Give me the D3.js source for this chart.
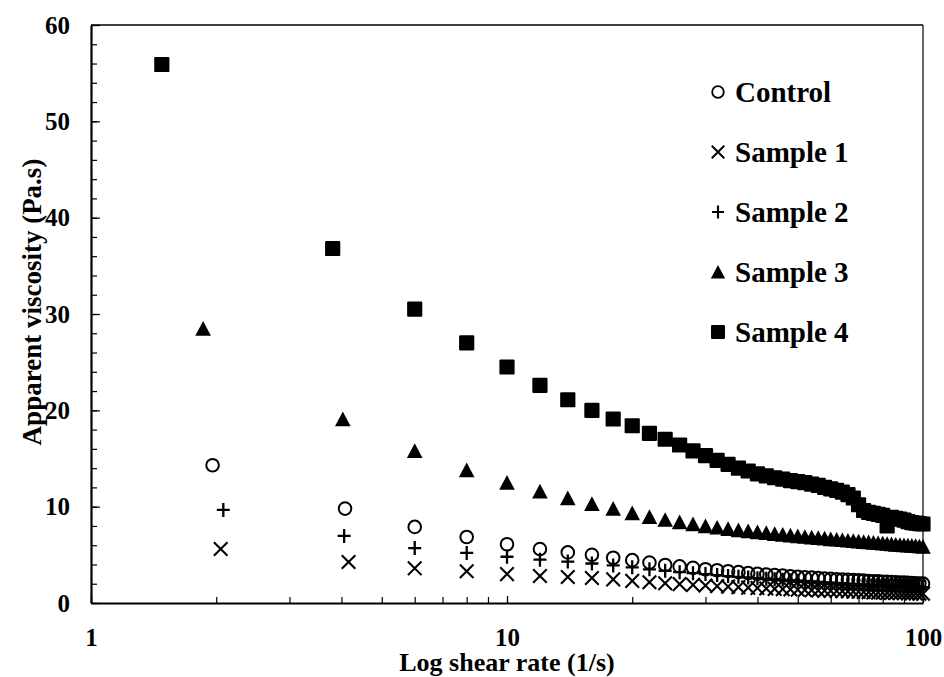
<!DOCTYPE html>
<html>
<head>
<meta charset="utf-8">
<script src="https://cdn.jsdelivr.net/npm/d3@7"></script>
<style>
  body { margin: 0; background: #fff; }
  svg text { font-family: "Liberation Serif", "Times New Roman", serif; font-weight: bold; fill: #000; }
</style>
</head>
<body>
<div class="chart"></div>
<script>
// shear rate steps (1/s) shared by all series
var shearRate = [2, 4, 6, 8, 10, 12, 14, 16, 18, 20,
                 22, 24, 26, 28, 30, 32, 34, 36, 38, 40,
                 42, 44, 46, 48, 50, 52, 54, 56, 58, 60,
                 62, 64, 66, 68, 70, 72, 74, 76, 78, 80,
                 82, 84, 86, 88, 90, 92, 94, 96, 98, 100];

// first two measured rates differ a bit per run
var controlLead = [1.96, 4.08];
var sample1Lead = [2.05, 4.16];
var sample2Lead = [2.08, 4.06];
var sample3Lead = [1.86, 4.03];
var sample4Lead = [1.48, 3.81];

// apparent viscosity (Pa.s)
var control = [14.3, 9.8, 7.9, 6.85, 6.1, 5.6, 5.25, 5.0, 4.7, 4.45,
               4.2, 3.95, 3.8, 3.65, 3.5, 3.4, 3.3, 3.2, 3.1, 3.03,
               2.96, 2.9, 2.84, 2.78, 2.73, 2.68, 2.63, 2.59, 2.55, 2.51,
               2.47, 2.44, 2.41, 2.38, 2.35, 2.32, 2.29, 2.26, 2.24, 2.21,
               2.19, 2.17, 2.15, 2.13, 2.11, 2.09, 2.07, 2.05, 2.03, 2.01];
var sample1 = [5.6, 4.25, 3.6, 3.3, 3.0, 2.8, 2.7, 2.6, 2.45, 2.3,
               2.15, 2.05, 1.96, 1.88, 1.81, 1.75, 1.7, 1.65, 1.6, 1.55,
               1.51, 1.47, 1.44, 1.41, 1.38, 1.35, 1.32, 1.3, 1.28, 1.26,
               1.24, 1.22, 1.2, 1.18, 1.16, 1.14, 1.12, 1.1, 1.08, 1.07,
               1.05, 1.04, 1.03, 1.02, 1.01, 1.0, 0.99, 0.98, 0.97, 0.96];
var sample2 = [9.66, 6.96, 5.7, 5.2, 4.8, 4.5, 4.3, 4.1, 3.9, 3.7,
               3.5, 3.35, 3.2, 3.1, 3.0, 2.9, 2.8, 2.72, 2.65, 2.58,
               2.52, 2.46, 2.41, 2.36, 2.31, 2.27, 2.23, 2.19, 2.15, 2.11,
               2.08, 2.05, 2.02, 1.99, 1.96, 1.93, 1.91, 1.89, 1.87, 1.85,
               1.83, 1.81, 1.79, 1.77, 1.75, 1.73, 1.71, 1.69, 1.67, 1.65];
var sample3 = [28.5, 19.1, 15.8, 13.8, 12.5, 11.6, 10.9, 10.3, 9.8, 9.35,
               8.95, 8.65, 8.4, 8.2, 8.0, 7.85, 7.7, 7.58, 7.47, 7.37,
               7.28, 7.19, 7.11, 7.03, 6.96, 6.89, 6.83, 6.77, 6.71, 6.65,
               6.6, 6.55, 6.5, 6.45, 6.4, 6.36, 6.32, 6.28, 6.24, 6.2,
               6.16, 6.12, 6.08, 6.05, 6.02, 5.99, 5.96, 5.93, 5.9, 5.87];
var sample4 = [55.9, 36.8, 30.5, 27.0, 24.5, 22.6, 21.1, 20.0, 19.1, 18.4,
               17.6, 17.0, 16.4, 15.8, 15.3, 14.8, 14.4, 14.0, 13.7, 13.4,
               13.2, 13.0, 12.85, 12.7, 12.6, 12.5, 12.35, 12.2, 12.0, 11.85,
               11.7, 11.5, 11.25, 10.9, 10.2, 9.6, 9.4, 9.3, 9.2, 9.1,
               8.0, 8.9, 8.8, 8.7, 8.6, 8.45, 8.35, 8.3, 8.25, 8.2];

var seriesNames = ["Control", "Sample 1", "Sample 2", "Sample 3", "Sample 4"];
var xTickValues = [1, 10, 100];
var yTickValues = [0, 10, 20, 30, 40, 50, 60];

var w = 944, h = 677;
var margin = { left: 91, right: 21, top: 25, bottom: 74 };

var svg = d3.select(".chart").append("svg")
  .attr("width", w)
  .attr("height", h);

var x = d3.scaleLog().domain([1, 100]).range([margin.left, w - margin.right]);
var y = d3.scaleLinear().domain([0, 60]).range([h - margin.bottom, margin.top]);

// marker shapes, centred on 0,0
var shapes = {
  circle: function(g) {
    g.append("circle").attr("r", 6.3).attr("fill", "none").attr("stroke", "#000").attr("stroke-width", 2);
  },
  times: function(g) {
    g.append("path").attr("d", "M-6.8,-6.8L6.8,6.8M-6.8,6.8L6.8,-6.8")
      .attr("stroke", "#000").attr("stroke-width", 2.1).attr("fill", "none");
  },
  plus: function(g) {
    g.append("path").attr("d", "M-6.5,0H6.5M0,-7V7")
      .attr("stroke", "#000").attr("stroke-width", 2.3).attr("fill", "none");
  },
  triangle: function(g) {
    g.append("path").attr("d", "M0,-7.5L7.8,7.2H-7.8Z").attr("fill", "#000");
  },
  square: function(g) {
    g.append("rect").attr("x", -7.6).attr("y", -7.6).attr("width", 15.2).attr("height", 15.2)
      .attr("rx", 1.2).attr("fill", "#000");
  }
};

function rows(lead, values) {
  return values.map(function(v, i) {
    return { rate: i < lead.length ? lead[i] : shearRate[i], visc: v };
  });
}

var series = [
  { name: seriesNames[0], shape: "circle", data: rows(controlLead, control) },
  { name: seriesNames[1], shape: "times", data: rows(sample1Lead, sample1) },
  { name: seriesNames[2], shape: "plus", data: rows(sample2Lead, sample2) },
  { name: seriesNames[3], shape: "triangle", data: rows(sample3Lead, sample3) },
  { name: seriesNames[4], shape: "square", data: rows(sample4Lead, sample4) }
];

// frame: thin top and right edges
svg.append("line")
  .attr("x1", margin.left).attr("x2", w - margin.right)
  .attr("y1", margin.top).attr("y2", margin.top)
  .attr("stroke", "#000").attr("stroke-width", 1.5);
svg.append("line")
  .attr("x1", w - margin.right).attr("x2", w - margin.right)
  .attr("y1", margin.top).attr("y2", h - margin.bottom)
  .attr("stroke", "#000").attr("stroke-width", 1.2);

// y axis: minor ticks every 2, major every 10, all pointing inward
var yMinor = svg.append("g")
  .attr("transform", "translate(" + margin.left + ",0)")
  .call(d3.axisLeft(y).tickValues(d3.range(0, 61, 2)).tickSize(-6).tickFormat(""));
yMinor.select(".domain").remove();

var yAxis = svg.append("g")
  .attr("transform", "translate(" + margin.left + ",0)")
  .call(d3.axisLeft(y).tickValues(yTickValues).tickSize(-9).tickPadding(21).tickSizeOuter(0));
yAxis.selectAll("text").style("font-size", "25px");

// x axis: log minor ticks, labels on decades
var xMinor = svg.append("g")
  .attr("transform", "translate(0," + (h - margin.bottom) + ")")
  .call(d3.axisBottom(x).tickValues(x.ticks()).tickSize(-6).tickFormat(""));
xMinor.select(".domain").remove();

var xAxis = svg.append("g")
  .attr("transform", "translate(0," + (h - margin.bottom) + ")")
  .call(d3.axisBottom(x).tickValues(xTickValues).tickSize(-7).tickPadding(25)
    .tickFormat(d3.format("d")).tickSizeOuter(0));
xAxis.selectAll("text").style("font-size", "25px");

svg.selectAll(".domain").attr("stroke-width", 2.2);
svg.selectAll(".tick line").attr("stroke-width", 1.2);

// axis titles
svg.append("text")
  .attr("x", (margin.left + w - margin.right) / 2)
  .attr("y", 671)
  .attr("text-anchor", "middle")
  .style("font-size", "26px")
  .text("Log shear rate (1/s)");

svg.append("text")
  .attr("transform", "translate(41,302) rotate(-90)")
  .attr("text-anchor", "middle")
  .style("font-size", "27px")
  .text("Apparent viscosity (Pa.s)");

// points
series.forEach(function(s) {
  svg.append("g").selectAll("g")
    .data(s.data)
    .enter()
    .append("g")
    .attr("transform", function(d) { return "translate(" + x(d.rate) + "," + y(d.visc) + ")"; })
    .each(function() { shapes[s.shape](d3.select(this)); });
});

// legend
var legend = svg.append("g").attr("transform", "translate(718,92)");
series.forEach(function(s, i) {
  var row = legend.append("g").attr("transform", "translate(0," + i * 60 + ")");
  var mark = row.append("g").attr("transform", "scale(0.92)");
  shapes[s.shape](mark);
  row.append("text")
    .attr("x", 17)
    .attr("y", 10)
    .style("font-size", "29px")
    .text(s.name);
});
</script>
</body>
</html>
